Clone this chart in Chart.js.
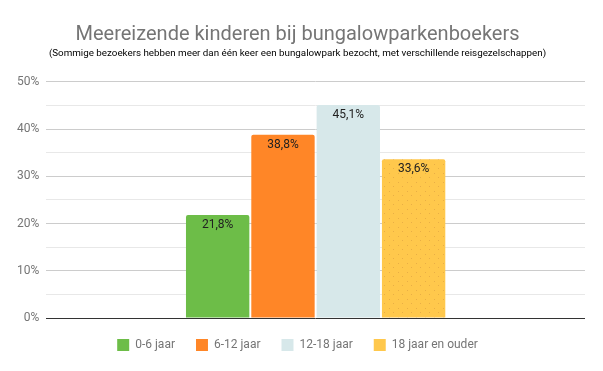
<!DOCTYPE html>
<html><head><meta charset="utf-8">
<script src="https://cdn.jsdelivr.net/npm/chart.js@4/dist/chart.umd.min.js"></script>
<style>html,body{margin:0;padding:0;background:#fff}#w{width:603px;height:371px}</style>
</head><body><div id="w"><canvas id="c"></canvas></div>
<script>
const categories = [''];
const seriesNames = ['0-6 jaar', '6-12 jaar', '12-18 jaar', '18 jaar en ouder'];
const seriesValues = [21.8, 38.8, 45.1, 33.6];
const seriesColors = ['#6DBD48', '#FF8627', '#D7E8EA', '#FFC84C'];
const yTicks = [0, 10, 20, 30, 40, 50];

function dotPattern(base, dot) {
  const p = document.createElement('canvas');
  p.width = 9; p.height = 9;
  const g = p.getContext('2d');
  g.fillStyle = base; g.fillRect(0, 0, 9, 9);
  g.fillStyle = dot;
  g.fillRect(2, 2, 1, 1);
  g.fillRect(6, 6, 1, 1);
  return g.createPattern(p, 'repeat');
}
const ctx = document.getElementById('c').getContext('2d');
const fills = seriesColors.map((c, i) => i === 3 ? dotPattern(c, '#E9AE45') : c);

const labelPlugin = {
  id: 'valLabels',
  afterDatasetsDraw(chart) {
    const c = chart.ctx;
    c.save();
    c.font = '12px Roboto';
    c.fillStyle = '#212121';
    c.textAlign = 'center';
    c.textBaseline = 'middle';
    chart.data.datasets.forEach((ds, i) => {
      const meta = chart.getDatasetMeta(i);
      meta.data.forEach((el, j) => {
        const v = ds.data[j];
        c.fillText(v.toFixed(1).replace('.', ',') + '%', el.x, el.y + 10);
      });
    });
    c.restore();
  }
};

new Chart(ctx, {
  type: 'bar',
  data: {
    labels: categories,
    datasets: seriesNames.map((n, i) => ({
      label: n,
      data: [seriesValues[i]],
      backgroundColor: fills[i],
      borderRadius: {topLeft: 2, topRight: 2},
      borderSkipped: 'bottom',
      categoryPercentage: 0.485,
      barPercentage: 0.97
    }))
  },
  options: {
    responsive: true,
    maintainAspectRatio: false,
    animation: false,
    layout: {padding: {left: 10, right: 18, top: 10, bottom: 10}},
    plugins: {
      title: {
        display: true,
        text: 'Meereizende kinderen bij bungalowparkenboekers',
        color: '#757575',
        font: {family: 'Roboto', size: 20, weight: 'normal'},
        padding: {top: 13, bottom: 1}
      },
      subtitle: {
        display: true,
        text: '(Sommige bezoekers hebben meer dan één keer een bungalowpark bezocht, met verschillende reisgezelschappen)',
        color: '#000000',
        font: {family: 'Roboto', size: 9.8},
        padding: {top: 0, bottom: 22}
      },
      legend: {
        position: 'bottom',
        labels: {
          color: '#757575',
          font: {family: 'Roboto', size: 12},
          boxWidth: 12, boxHeight: 12,
          padding: 21,
          generateLabels(chart) {
            const items = Chart.defaults.plugins.legend.labels.generateLabels(chart);
            items.forEach((it, i) => { it.fillStyle = seriesColors[i]; it.strokeStyle = seriesColors[i]; it.lineWidth = 0; });
            return items;
          }
        }
      },
      tooltip: {enabled: false}
    },
    scales: {
      x: {
        display: false
      },
      y: {
        min: 0, max: 50,
        ticks: {
          stepSize: 5,
          color: '#757575',
          font: {family: 'Roboto', size: 12},
          padding: 7,
          callback: (v) => yTicks.includes(v) ? v + '%' : ''
        },
        grid: {
          drawTicks: false,
          color: (c) => {
            if (!c.tick) return '#cccccc';
            if (c.tick.value === 0) return '#333333';
            return c.tick.value % 10 === 0 ? '#cccccc' : '#e8e8e8';
          }
        },
        border: {display: false}
      }
    }
  },
  plugins: [labelPlugin]
});
</script>
</body></html>
